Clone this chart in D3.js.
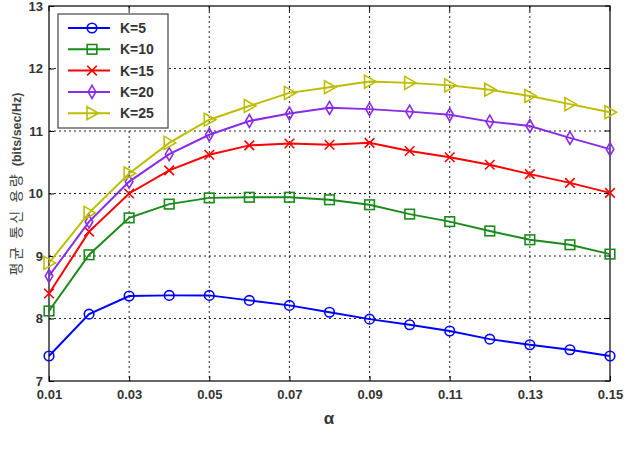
<!DOCTYPE html>
<html><head><meta charset="utf-8">
<script src="https://cdn.jsdelivr.net/npm/d3@7"></script>
<style>body{margin:0;background:#fff}svg{display:block}</style>
</head><body>
<svg id="c" width="635" height="462"></svg>
<script>
const alphas = [0.01,0.02,0.03,0.04,0.05,0.06,0.07,0.08,0.09,0.10,0.11,0.12,0.13,0.14,0.15];
const k5  = [7.40,8.07,8.36,8.37,8.37,8.29,8.21,8.10,7.99,7.90,7.80,7.67,7.58,7.50,7.40];
const k10 = [8.12,9.02,9.61,9.83,9.93,9.94,9.94,9.90,9.82,9.67,9.55,9.40,9.26,9.18,9.03];
const k15 = [8.40,9.39,10.00,10.37,10.62,10.77,10.80,10.78,10.81,10.68,10.58,10.46,10.31,10.17,10.01];
const k20 = [8.68,9.55,10.19,10.63,10.94,11.16,11.28,11.37,11.35,11.31,11.26,11.15,11.08,10.89,10.71];
const k25 = [8.89,9.69,10.32,10.81,11.18,11.40,11.61,11.70,11.79,11.77,11.73,11.66,11.56,11.43,11.30];
const seriesNames = ["K=5","K=10","K=15","K=20","K=25"];
const xTicks = [0.01,0.03,0.05,0.07,0.09,0.11,0.13,0.15];
const yTicks = [7,8,9,10,11,12,13];
const yLabelKo = "평균 통신 용량";
const yLabelUnit = "(bits/sec/Hz)";
const xLabel = "α";

const series = [
  {name:seriesNames[0], values:k5,  color:"#0000ff", marker:"circle"},
  {name:seriesNames[1], values:k10, color:"#1a8a1a", marker:"square"},
  {name:seriesNames[2], values:k15, color:"#ff0000", marker:"x"},
  {name:seriesNames[3], values:k20, color:"#8a2be8", marker:"diamond"},
  {name:seriesNames[4], values:k25, color:"#bdbd00", marker:"triangle"}
];

const svg = d3.select("#c");
const L=49, R=610, T=6, B=381;
const x = d3.scaleLinear().domain([0.01,0.15]).range([L,R]);
const y = d3.scaleLinear().domain([7,13]).range([B,T]);
const font = "'Liberation Sans', Arial, sans-serif";

// grid
const g = svg.append("g");
g.selectAll(".gx").data(xTicks.slice(1,-1)).join("line")
  .attr("x1",d=>x(d)).attr("x2",d=>x(d)).attr("y1",T).attr("y2",B)
  .attr("stroke","#222").attr("stroke-width",1).attr("stroke-dasharray","2,3");
g.selectAll(".gy").data(yTicks.slice(1,-1)).join("line")
  .attr("y1",d=>y(d)).attr("y2",d=>y(d)).attr("x1",L).attr("x2",R)
  .attr("stroke","#222").attr("stroke-width",1).attr("stroke-dasharray","2,3");

// axes
const xa = svg.append("g").attr("transform",`translate(0,${B})`)
  .call(d3.axisBottom(x).tickValues(xTicks).tickFormat(d3.format(".2f")).tickSizeInner(-5).tickSizeOuter(0).tickPadding(9));
const ya = svg.append("g").attr("transform",`translate(${L},0)`)
  .call(d3.axisLeft(y).tickValues(yTicks).tickFormat(d3.format("d")).tickSizeInner(-5).tickSizeOuter(0).tickPadding(6));
[xa,ya].forEach(a=>{
  a.select(".domain").remove();
  a.selectAll("line").attr("stroke","#000");
  a.selectAll("text").attr("font-family",font).attr("font-weight","bold").attr("font-size","13px").attr("fill","#333");
});
// box
svg.append("rect").attr("x",L).attr("y",T).attr("width",R-L).attr("height",B-T)
  .attr("fill","none").attr("stroke","#000").attr("stroke-width",1.2);
// right/top ticks
svg.selectAll(".rt").data(yTicks).join("line").attr("x1",R).attr("x2",R-5).attr("y1",d=>y(d)).attr("y2",d=>y(d)).attr("stroke","#000");
svg.selectAll(".tt").data(xTicks).join("line").attr("y1",T).attr("y2",T+5).attr("x1",d=>x(d)).attr("x2",d=>x(d)).attr("stroke","#000");

// labels
const yl = svg.append("text").attr("transform",`translate(21,184) rotate(-90)`)
  .attr("text-anchor","middle").attr("font-weight","bold").attr("fill","#444");
yl.append("tspan").attr("font-family","'Noto Sans CJK KR', sans-serif").attr("font-size","14px")
  .attr("letter-spacing","2.5px").attr("font-weight","normal").text(yLabelKo + " ");
yl.append("tspan").attr("font-family",font).attr("font-size","12.5px").text(yLabelUnit);
svg.append("text").attr("x",329).attr("y",424).attr("text-anchor","middle")
  .attr("font-family",font).attr("font-weight","bold").attr("font-size","17px").attr("fill","#333").text(xLabel);

function drawMarker(sel, type, color){
  sel.each(function(){
    const m = d3.select(this);
    if(type==="circle") m.append("circle").attr("r",4.8);
    else if(type==="square") m.append("rect").attr("x",-4.8).attr("y",-4.8).attr("width",9.6).attr("height",9.6);
    else if(type==="x") m.append("path").attr("d","M-4.8,-4.8L4.8,4.8M-4.8,4.8L4.8,-4.8");
    else if(type==="diamond") m.append("path").attr("d","M0,-6.5L3.8,0L0,6.5L-3.8,0Z");
    else if(type==="triangle") m.append("path").attr("d","M-5,-6.5L6.5,0L-5,6.5Z");
    m.selectAll("*").attr("fill","none").attr("stroke",color).attr("stroke-width",1.6);
  });
}

const line = d3.line().x((d,i)=>x(alphas[i])).y(d=>y(d));
series.forEach(s=>{
  svg.append("path").datum(s.values).attr("d",line).attr("fill","none")
    .attr("stroke",s.color).attr("stroke-width",2);
  const mg = svg.append("g").selectAll("g").data(s.values).join("g")
    .attr("transform",(d,i)=>`translate(${x(alphas[i])},${y(d)})`);
  drawMarker(mg, s.marker, s.color);
});

// legend
const lg = svg.append("g");
lg.append("rect").attr("x",58).attr("y",14).attr("width",110).attr("height",114)
  .attr("fill","#fff").attr("stroke","#444").attr("stroke-width",1.2);
series.forEach((s,i)=>{
  const yy = 28 + i*21.3;
  lg.append("line").attr("x1",68).attr("x2",110).attr("y1",yy).attr("y2",yy).attr("stroke",s.color).attr("stroke-width",2);
  const mg = lg.append("g").attr("transform",`translate(92,${yy})`);
  drawMarker(mg, s.marker, s.color);
  lg.append("text").attr("x",120).attr("y",yy+5).attr("font-family",font).attr("font-weight","bold")
    .attr("font-size","14px").attr("fill","#333").text(s.name);
});
</script>
</body></html>
